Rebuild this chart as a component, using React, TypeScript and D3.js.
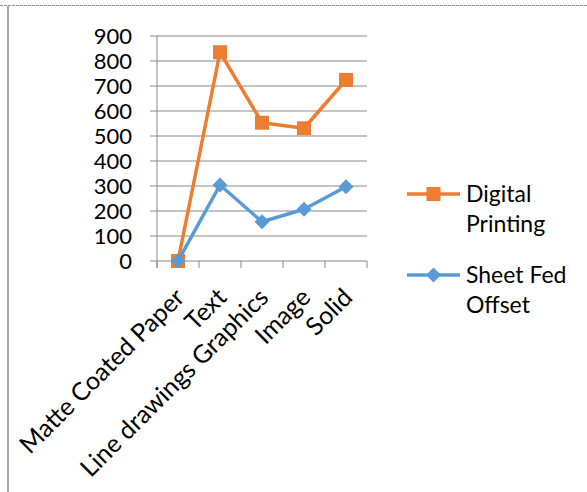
import React from "react";
import * as d3 from "d3";

const categories = ["Matte Coated Paper", "Text", "Line drawings Graphics", "Image", "Solid"];
const digitalPrinting = [0, 835, 553, 531, 724];
const sheetFedOffset = [0, 304, 157, 207, 297];
const yTicks = [0, 100, 200, 300, 400, 500, 600, 700, 800, 900];
const seriesNames = ["Digital Printing", "Sheet Fed Offset"];

const W = 587;
const H = 492;
const FONT = "Lato, 'Open Sans', sans-serif";
const ORANGE = "#ED7D31";
const BLUE = "#5B9BD5";
const GRID = "#898989";

export default function App() {
  const left = 157;
  const right = 367;
  const top = 36;
  const bottom = 261;
  const x = d3.scaleBand<string>().domain(categories).range([left, right]);
  const y = d3.scaleLinear().domain([0, 900]).range([bottom, top]);
  const cx = (c: string) => (x(c) as number) + x.bandwidth() / 2;
  const line = d3
    .line<number>()
    .x((_, i) => cx(categories[i]))
    .y((d) => y(d));

  const series = [
    { name: seriesNames[0], values: digitalPrinting, color: ORANGE, marker: "square" },
    { name: seriesNames[1], values: sheetFedOffset, color: BLUE, marker: "diamond" },
  ];

  const marker = (kind: string, px: number, py: number, color: string, key: string) =>
    kind === "square" ? (
      <rect key={key} x={px - 7} y={py - 7} width={14} height={14} fill={color} />
    ) : (
      <path
        key={key}
        d={`M${px},${py - 7.5}L${px + 7.5},${py}L${px},${py + 7.5}L${px - 7.5},${py}Z`}
        fill={color}
      />
    );

  const boundaries = [...categories.map((c) => x(c) as number), right];

  return (
    <svg
      width={W}
      height={H}
      style={{ position: "absolute", left: 0, top: 0, background: "#fff" }}
      fontFamily={FONT}
    >
      {/* page frame */}
      <line x1={0} x2={W} y1={5.5} y2={5.5} stroke="#8c8c8c" strokeWidth={1} strokeDasharray="3,1" />
      <line x1={8} x2={8} y1={6} y2={H} stroke="#a6a6a6" strokeWidth={2} />

      {/* gridlines */}
      {yTicks.map((t) => (
        <line key={"g" + t} x1={left - 7} x2={right} y1={y(t)} y2={y(t)} stroke={GRID} strokeWidth={1} />
      ))}
      <line x1={left} x2={left} y1={top} y2={bottom + 7} stroke={GRID} strokeWidth={1} />
      {boundaries.map((b, i) => (
        <line key={"t" + i} x1={b} x2={b} y1={bottom} y2={bottom + 7} stroke={GRID} strokeWidth={1} />
      ))}

      {/* y tick labels */}
      {yTicks.map((t) => (
        <text key={"yl" + t} x={132} y={y(t) + 8} textAnchor="end" fontSize={22} fill="#000">
          {t}
        </text>
      ))}

      {/* category labels */}
      {categories.map((c) => (
        <text
          key={"c" + c}
          transform={`translate(${cx(c) + 8},${bottom + 38}) rotate(-45)`}
          textAnchor="end"
          fontSize={25}
          fill="#000"
        >
          {c}
        </text>
      ))}

      {/* series */}
      {series.map((s) => (
        <g key={s.name}>
          <path d={line(s.values) as string} fill="none" stroke={s.color} strokeWidth={3.5} strokeLinejoin="round" />
          {s.values.map((v, i) => marker(s.marker, cx(categories[i]), y(v), s.color, s.name + i))}
        </g>
      ))}

      {/* legend */}
      {series.map((s, i) => {
        const ly = i === 0 ? 194 : 275;
        const words = s.name.split(" ");
        const lines = i === 0 ? [words[0], words[1]] : [words[0] + " " + words[1], words[2]];
        return (
          <g key={"leg" + s.name}>
            <line x1={407} x2={460} y1={ly} y2={ly} stroke={s.color} strokeWidth={3.5} />
            {marker(s.marker, 433.5, ly, s.color, "lm" + i)}
            {lines.map((t, j) => (
              <text key={j} x={466} y={ly + 8 + j * 30} fontSize={23} fill="#000">
                {t}
              </text>
            ))}
          </g>
        );
      })}
    </svg>
  );
}
